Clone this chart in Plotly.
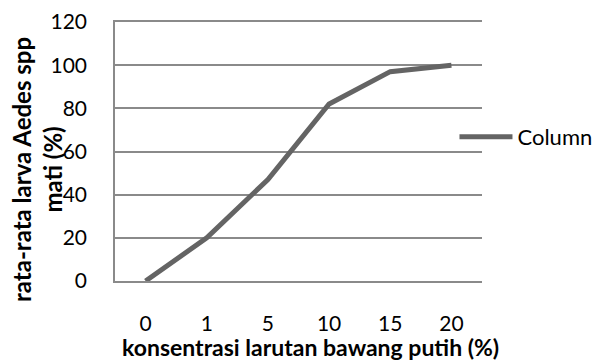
import plotly.graph_objects as go

categories = ["0", "1", "5", "10", "15", "20"]
values = [0, 20, 47, 82, 97, 100]
series_name = "Column"
x_title = "konsentrasi larutan bawang putih (%)"
y_title = "rata-rata larva Aedes spp<br>mati (%)"

FONT = "Lato"
fig = go.Figure()
fig.add_trace(go.Scatter(
    x=categories, y=values, mode="lines", name=series_name,
    line=dict(color="#646464", width=5),
))

# the page body has an 8px margin, so layout is offset accordingly
fig.update_layout(
    width=603, height=364,
    margin=dict(l=107, r=129, t=14, b=91, autoexpand=False),
    paper_bgcolor="white", plot_bgcolor="white",
    font=dict(family=FONT, size=21, color="#000000"),
    showlegend=True,
    legend=dict(x=0.925, y=0.556, xanchor="left", yanchor="middle",
                font=dict(size=22), bgcolor="rgba(0,0,0,0)",
                itemwidth=53),
    xaxis=dict(type="category", range=[-0.5, 5.5], showgrid=False,
               showline=True, mirror=True,
               linecolor="#8a8a8a", linewidth=1.5, ticks="",
               ticklabelstandoff=23, zeroline=False, automargin=False),
    yaxis=dict(range=[0, 120], dtick=20, showgrid=True,
               gridcolor="#8a8a8a", gridwidth=1.5, showline=True,
               linecolor="#8a8a8a", linewidth=1.5, ticks="outside",
               ticklen=22, tickcolor="rgba(0,0,0,0)",
               zeroline=False, automargin=False),
)
fig.add_annotation(text="<b>" + x_title + "</b>", xref="paper", yref="paper",
                   x=0.5, y=0, xshift=12, yshift=-66, xanchor="center",
                   yanchor="middle", showarrow=False, font=dict(size=23))
fig.add_annotation(text="<b>" + y_title + "</b>", xref="paper", yref="paper",
                   x=0, y=0.5, xshift=-78, yshift=-18.5, textangle=-90,
                   xanchor="center", yanchor="middle",
                   showarrow=False, font=dict(size=24))
fig.write_html("out.html")
